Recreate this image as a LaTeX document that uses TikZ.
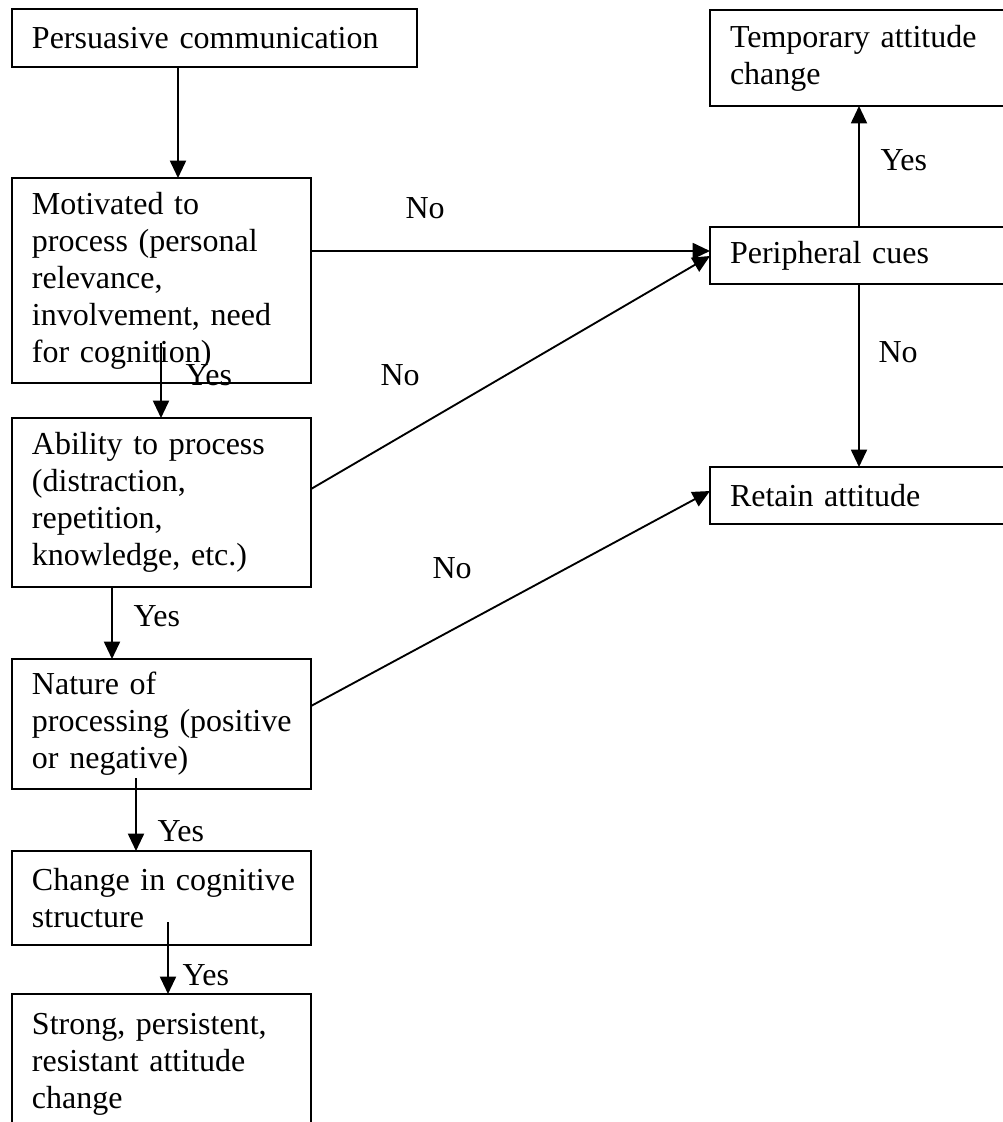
\documentclass[tikz,border=0pt]{standalone}
\usepackage{fontspec}
\setmainfont{Liberation Serif}
\usetikzlibrary{arrows.meta}
\begin{document}
\begin{tikzpicture}[x=0.375pt,y=-0.375pt,
  box/.style={draw,line width=0.7pt,rectangle,anchor=north west,inner xsep=7.5pt,inner ysep=0pt,outer sep=0pt,align=left,font={\fontsize{12pt}{13.875pt}\selectfont}},
  lbl/.style={anchor=base west,inner sep=0pt,font={\fontsize{12pt}{13.875pt}\selectfont}},
  arr/.style={line width=0.7pt,-{Triangle[length=6.5pt,width=6pt]}}]
\path[use as bounding box,clip] (0,0) rectangle (1003,1122);
% boxes
\node[box,text width=136.875pt,minimum height=21.75pt] (pc) at (12,9) {\mbox{Persuasive communication}};
\node[box,text width=97.125pt,minimum height=76.875pt] (mot) at (12,178) {\mbox{Motivated to}\\\mbox{process (personal}\\\mbox{relevance,}\\\mbox{involvement, need}\\\mbox{for cognition)}};
\node[box,text width=97.125pt,minimum height=63.375pt] (abl) at (12,418) {\mbox{Ability to process}\\\mbox{(distraction,}\\\mbox{repetition,}\\\mbox{knowledge, etc.)}};
\node[box,text width=97.125pt,minimum height=48.75pt] (nat) at (12,659) {\mbox{Nature of}\\\mbox{processing (positive}\\\mbox{or negative)}};
\node[box,text width=97.125pt,minimum height=35.25pt] (chg) at (12,851) {\mbox{Change in cognitive}\\\mbox{structure}};
\node[box,text width=97.125pt,minimum height=52.5pt] (str) at (12,994) {\mbox{Strong, persistent,}\\\mbox{resistant attitude}\\\mbox{change}};
\node[box,text width=97.5pt,minimum height=36pt] (tmp) at (710,10) {\mbox{Temporary attitude}\\\mbox{change}};
\node[box,text width=97.5pt,minimum height=21.375pt] (per) at (710,227) {\mbox{Peripheral cues}};
\node[box,text width=97.5pt,minimum height=21.375pt] (ret) at (710,467) {\mbox{Retain attitude}};
% connectors
\draw[arr] ([xshift=62.25pt]pc.south west) -- ([xshift=62.25pt]mot.north west);
\draw[arr] ([shift={(55.875pt,15pt)}]mot.south west) -- ([xshift=55.875pt]abl.north west);
\draw[arr] ([xshift=37.5pt]abl.south west) -- ([xshift=37.5pt]nat.north west);
\draw[arr] ([shift={(46.5pt,4.125pt)}]nat.south west) -- ([xshift=46.5pt]chg.north west);
\draw[arr] ([shift={(58.5pt,8.625pt)}]chg.south west) -- ([xshift=58.5pt]str.north west);
\draw[arr] ([yshift=-27.375pt]mot.north east) -- ([yshift=-9pt]per.north west);
\draw[arr] ([yshift=-26.625pt]abl.north east) -- ([yshift=-10.875pt]per.north west);
\draw[arr] ([yshift=-17.625pt]nat.north east) -- ([yshift=-9pt]ret.north west);
\draw[arr] ([xshift=55.875pt]per.north west) -- ([xshift=55.875pt]tmp.south west);
\draw[arr] ([xshift=55.875pt]per.south west) -- ([xshift=55.875pt]ret.north west);
% labels
\node[lbl] (l1) at (405,218) {No};
\node[lbl] (l2) at (185,385) {Yes};
\node[lbl] (l3) at (380,385) {No};
\node[lbl] (l4) at (432,578) {No};
\node[lbl] (l5) at (133,626) {Yes};
\node[lbl] (l6) at (157,841) {Yes};
\node[lbl] (l7) at (182,985) {Yes};
\node[lbl] (l8) at (880,170) {Yes};
\node[lbl] (l9) at (878,362) {No};
\end{tikzpicture}
\end{document}
